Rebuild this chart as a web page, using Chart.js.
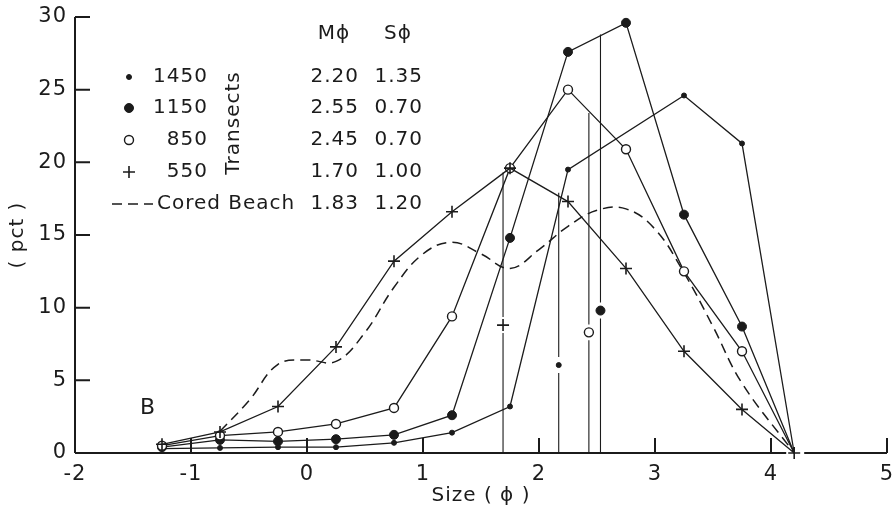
<!DOCTYPE html>
<html lang="en">
<head>
<meta charset="UTF-8">
<title>Size distribution - transects</title>
<script src="https://cdn.jsdelivr.net/npm/chart.js@4.4.1/dist/chart.umd.min.js"></script>
<style>
  html, body { margin: 0; padding: 0; background: #fff; }
  #wrap { width: 896px; height: 511px; }
</style>
</head>
<body>
<div id="wrap"><canvas id="myChart"></canvas></div>
<script>
// size classes (phi) and percentages
const sizes = [-1.25, -0.75, -0.25, 0.25, 0.75, 1.25, 1.75, 2.25, 2.75, 3.25, 3.75, 4.2];
const t550  = [0.6, 1.45, 3.2, 7.3, 13.2, 16.6, 19.6, 17.3, 12.7, 7.0, 3.0, 0];
const t850  = [0.5, 1.2, 1.45, 2.0, 3.1, 9.4, 19.6, 25.0, 20.9, 12.5, 7.0, 0];
const t1150 = [0.4, 0.9, 0.8, 0.95, 1.25, 2.6, 14.8, 27.6, 29.6, 16.4, 8.7, 0];
const t1450 = [0.3, 0.35, 0.4, 0.4, 0.7, 1.4, 3.2, 19.5, null, 24.6, 21.3, 0];

// cored beach curve (dashed)
const beachX = [-0.75, -0.5, -0.25, 0, 0.25, 0.5, 0.75, 1.0, 1.25, 1.5, 1.75, 2.0, 2.25, 2.5, 2.75, 3.0, 3.25, 3.5, 3.75, 4.2];
const beachY = [1.5, 3.6, 6.1, 6.4, 6.3, 8.3, 11.4, 13.7, 14.5, 13.7, 12.7, 14.0, 15.6, 16.7, 16.8, 15.4, 12.4, 8.7, 4.8, 0];

// mean size markers: x position, marker height, top of the vertical line
const meanNames = ['550', '850', '1150', '1450'];
const meanX   = [1.69, 2.43, 2.53, 2.17];
const meanY   = [8.8, 8.3, 9.8, 6.05];
const meanTop = [19.3, 23.4, 28.8, 17.9];

// legend table
const legendRows = ['1450', '1150', '850', '550'];
const legendM = ['2.20', '2.55', '2.45', '1.70', '1.83'];
const legendS = ['1.35', '0.70', '0.70', '1.00', '1.20'];

const xTicks = { min: -2, max: 5, step: 1 };
const yTicks = { min: 0, max: 30, step: 5 };

const ink = '#1b1b1b';
const font = 'DejaVu Sans';

function pts(xs, ys) {
  return xs.map((x, i) => ({ x: x, y: ys[i] }));
}

// marker styles per transect
const styles = {
  '550':  { pointStyle: 'cross',  pointRadius: 6,   pointBorderWidth: 1.6, pointBackgroundColor: ink },
  '850':  { pointStyle: 'circle', pointRadius: 4.5, pointBorderWidth: 1.4, pointBackgroundColor: '#fff' },
  '1150': { pointStyle: 'circle', pointRadius: 4.5, pointBorderWidth: 1,   pointBackgroundColor: ink },
  '1450': { pointStyle: 'circle', pointRadius: 2.5, pointBorderWidth: 1,   pointBackgroundColor: ink }
};

function series(name, vals) {
  const st = styles[name];
  const radii = vals.map((v, i) => (i === vals.length - 1 && name !== '550') ? 0 : st.pointRadius);
  return Object.assign({}, st, {
    label: name,
    data: pts(sizes, vals),
    borderColor: ink,
    pointBorderColor: ink,
    borderWidth: 1.3,
    pointRadius: radii,
    spanGaps: true,
    tension: 0,
    clip: false
  });
}

const gapY = 0.55;
function meanLine(i) {
  const x = meanX[i];
  return {
    label: 'mean line ' + meanNames[i],
    data: [{ x: x, y: 0 }, { x: x, y: meanY[i] - gapY }, { x: x, y: null },
           { x: x, y: meanY[i] + gapY }, { x: x, y: meanTop[i] }],
    borderColor: ink,
    borderWidth: 1.1,
    pointRadius: 0,
    spanGaps: false,
    clip: false
  };
}
function meanMark(i) {
  const st = styles[meanNames[i]];
  return Object.assign({}, st, {
    label: 'mean ' + meanNames[i],
    data: [{ x: meanX[i], y: meanY[i] }],
    showLine: false,
    pointBorderColor: ink,
    clip: false
  });
}

const datasets = [
  series('550', t550),
  series('850', t850),
  series('1150', t1150),
  series('1450', t1450),
  {
    label: 'Cored Beach',
    data: pts(beachX, beachY),
    borderColor: ink,
    borderWidth: 1.5,
    borderDash: [10, 6],
    pointRadius: 0,
    tension: 0.4,
    clip: false
  }
];
meanNames.forEach((n, i) => datasets.push(meanMark(i)));
meanNames.forEach((n, i) => datasets.push(meanLine(i)));

const framePlugin = {
  id: 'frame',
  beforeDraw(chart) {
    chart.ctx.letterSpacing = '1px';
  },
  beforeDatasetsDraw(chart) {
    const ctx = chart.ctx, xs = chart.scales.x, ys = chart.scales.y;
    const tick = 15;
    ctx.save();
    ctx.strokeStyle = ink;
    ctx.lineWidth = 2;
    ctx.beginPath();
    ctx.moveTo(xs.left, ys.bottom);
    ctx.lineTo(xs.left, ys.top);
    ys.ticks.forEach(t => {
      const p = ys.getPixelForValue(t.value);
      ctx.moveTo(xs.left, p);
      ctx.lineTo(xs.left + tick, p);
    });
    xs.ticks.forEach(t => {
      const p = xs.getPixelForValue(t.value);
      ctx.moveTo(p, ys.bottom);
      ctx.lineTo(p, ys.bottom - tick);
    });
    // axis line with a small break where the curves meet
    const gx = xs.getPixelForValue(sizes[sizes.length - 1]);
    ctx.moveTo(xs.left, ys.bottom);
    ctx.lineTo(gx - 8, ys.bottom);
    ctx.moveTo(gx + 10, ys.bottom);
    ctx.lineTo(xs.right, ys.bottom);
    ctx.stroke();
    ctx.restore();
  },
  afterDraw(chart) {
    const ctx = chart.ctx;
    ctx.save();
    ctx.fillStyle = ink;
    ctx.strokeStyle = ink;
    ctx.textBaseline = 'middle';
    ctx.font = '20px "' + font + '"';

    // headers
    ctx.textAlign = 'center';
    ctx.fillText('Mϕ', 334, 34);
    ctx.fillText('Sϕ', 398, 34);

    const rowY = [77, 108, 140, 172, 204];
    const symX = 129;
    legendRows.forEach((name, i) => {
      const y = rowY[i];
      const st = styles[name];
      ctx.lineWidth = st.pointBorderWidth;
      if (st.pointStyle === 'cross') {
        ctx.beginPath();
        ctx.moveTo(symX - st.pointRadius, y); ctx.lineTo(symX + st.pointRadius, y);
        ctx.moveTo(symX, y - st.pointRadius); ctx.lineTo(symX, y + st.pointRadius);
        ctx.stroke();
      } else {
        ctx.beginPath();
        ctx.arc(symX, y, st.pointRadius, 0, Math.PI * 2);
        ctx.fillStyle = st.pointBackgroundColor;
        ctx.fill();
        ctx.stroke();
        ctx.fillStyle = ink;
      }
      ctx.textAlign = 'right';
      ctx.fillText(name, 208, y);
    });
    // dashed sample for the beach curve
    ctx.lineWidth = 1.5;
    ctx.setLineDash([10, 6]);
    ctx.beginPath();
    ctx.moveTo(112, rowY[4]);
    ctx.lineTo(153, rowY[4]);
    ctx.stroke();
    ctx.setLineDash([]);
    ctx.textAlign = 'left';
    ctx.fillText('Cored Beach', 157, rowY[4]);

    ctx.textAlign = 'right';
    rowY.forEach((y, i) => {
      ctx.fillText(legendM[i], 359, y);
      ctx.fillText(legendS[i], 423, y);
    });

    // "Transects" written upward beside the rows
    ctx.save();
    ctx.translate(234, 123);
    ctx.rotate(-Math.PI / 2);
    ctx.textAlign = 'center';
    ctx.fillText('Transects', 0, 0);
    ctx.restore();

    // panel letter
    ctx.font = '22px "' + font + '"';
    ctx.textAlign = 'center';
    ctx.fillText('B', 148, 408);
    ctx.restore();
  }
};

new Chart('myChart', {
  type: 'line',
  data: { datasets: datasets },
  options: {
    responsive: true,
    maintainAspectRatio: false,
    animation: false,
    layout: { padding: { top: 17, right: 9, left: 0, bottom: 0 } },
    plugins: {
      legend: { display: false },
      tooltip: { enabled: false }
    },
    scales: {
      x: {
        type: 'linear',
        min: xTicks.min,
        max: xTicks.max,
        grid: { display: false, drawTicks: false },
        border: { display: false },
        ticks: { stepSize: xTicks.step, padding: 9, color: ink, font: { family: font, size: 21 } },
        title: { display: true, text: 'Size ( ϕ )', color: ink, padding: { top: 0, bottom: 3 }, font: { family: font, size: 20 } },
        afterFit: s => { s.height = 58; s.paddingLeft = 0; s.paddingRight = 0; }
      },
      y: {
        min: yTicks.min,
        max: yTicks.max,
        grid: { display: false, drawTicks: false },
        border: { display: false },
        ticks: { stepSize: yTicks.step, padding: 8, color: ink, font: { family: font, size: 21 } },
        title: { display: true, text: '( pct )', color: ink, padding: { top: 6, bottom: 0 }, font: { family: font, size: 20 } },
        afterFit: s => { s.width = 75; s.paddingTop = 0; s.paddingBottom = 0; }
      }
    }
  },
  plugins: [framePlugin]
});
</script>
</body>
</html>
